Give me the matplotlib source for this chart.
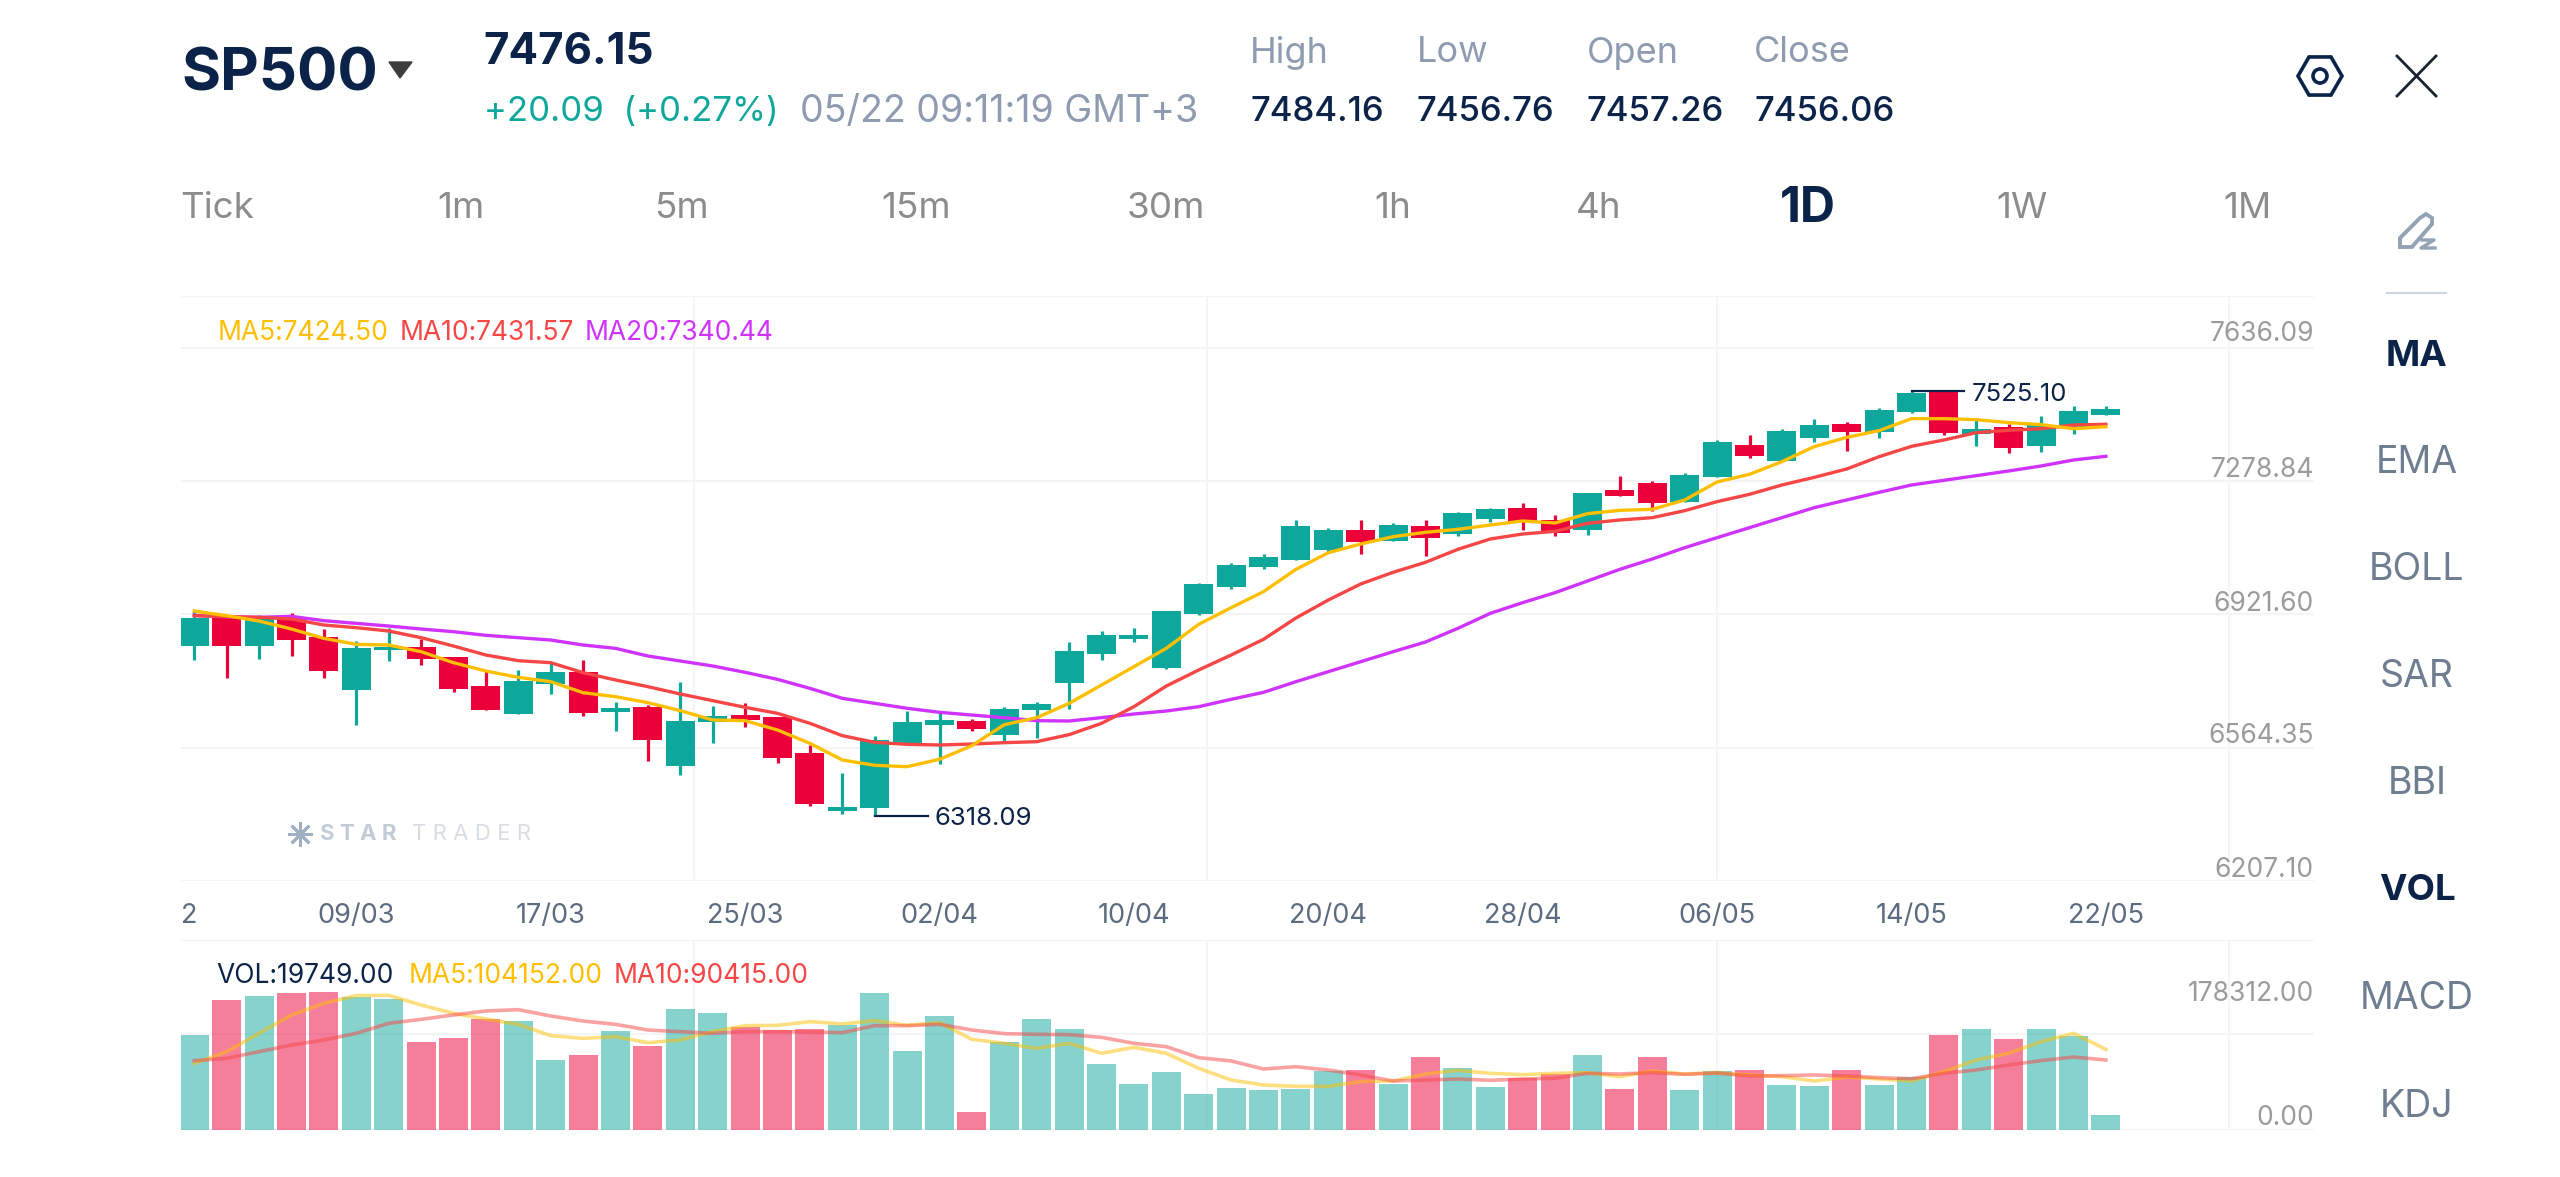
import matplotlib
matplotlib.use("Agg")
import matplotlib.pyplot as plt
from matplotlib.patches import Polygon, Circle, RegularPolygon

opens = [6801.7, 6882.3, 6801.7, 6879.4, 6825.4, 6676.5, 6789.4, 6798.8, 6769.4, 6686.0,
         6607.3, 6692.6, 6726.8, 6612.1, 6628.2, 6460.3, 6583.6, 6605.4, 6597.8, 6496.4,
         6330.4, 6339.9, 6523.9, 6576.0, 6586.4, 6547.5, 6617.7, 6695.5, 6778.9, 6821.6,
         6739.1, 6891.8, 6969.5, 7025.5, 7045.4, 7074.0, 7129.9, 7098.6, 7143.1, 7118.5,
         7161.2, 7193.4, 7159.3, 7131.8, 7245.5, 7264.5, 7210.5, 7281.6, 7373.6, 7326.2,
         7391.6, 7431.4, 7410.6, 7466.5, 7523.4, 7404.9, 7424.8, 7368.8, 7424.8, 7457.26]
highs = [6903.2, 6884.2, 6888.9, 6895.6, 6848.1, 6815.9, 6851.0, 6819.7, 6770.4, 6730.6,
         6732.5, 6756.2, 6760.9, 6642.4, 6632.9, 6699.3, 6631.0, 6637.7, 6599.7, 6519.1,
         6438.5, 6544.7, 6615.9, 6609.2, 6594.0, 6626.2, 6641.4, 6813.1, 6843.4, 6852.9,
         6901.3, 6979.0, 7035.9, 7062.5, 7159.2, 7135.6, 7159.3, 7149.8, 7158.3, 7181.1,
         7194.3, 7207.6, 7174.4, 7236.1, 7284.4, 7269.3, 7292.0, 7386.8, 7401.1, 7418.1,
         7446.6, 7437.1, 7476.9, 7525.10, 7523.4, 7450.4, 7432.4, 7455.1, 7483.6, 7484.16]
lows = [6760.9, 6710.6, 6764.7, 6772.3, 6708.7, 6575.0, 6759.0, 6746.7, 6668.9, 6617.7,
        6607.3, 6663.2, 6602.6, 6559.9, 6473.6, 6434.7, 6525.8, 6571.3, 6468.9, 6345.6,
        6323.8, 6318.09, 6523.9, 6465.1, 6559.9, 6531.4, 6540.0, 6621.5, 6759.9, 6813.1,
        6734.4, 6888.9, 6962.0, 7019.8, 7045.4, 7068.2, 7061.6, 7098.6, 7056.8, 7114.7,
        7153.6, 7129.9, 7114.7, 7117.5, 7226.6, 7183.9, 7210.5, 7281.6, 7334.7, 7326.2,
        7382.1, 7354.6, 7391.6, 7464.6, 7402.0, 7368.8, 7350.8, 7352.7, 7404.9, 7456.76]
closes = [6880.4, 6801.7, 6876.6, 6817.8, 6729.6, 6795.1, 6797.9, 6762.8, 6678.4, 6617.7,
          6702.1, 6725.8, 6609.2, 6624.4, 6532.4, 6588.4, 6601.6, 6591.2, 6483.1, 6351.3,
          6342.7, 6533.4, 6583.6, 6590.3, 6563.7, 6620.6, 6635.7, 6786.5, 6832.0, 6831.1,
          6900.3, 6977.1, 7032.1, 7054.0, 7142.2, 7130.8, 7096.7, 7145.0, 7107.1, 7180.1,
          7191.5, 7154.5, 7121.3, 7235.1, 7226.6, 7206.7, 7286.3, 7381.1, 7341.3, 7413.4,
          7429.5, 7408.7, 7472.2, 7521.5, 7407.7, 7418.1, 7365.1, 7429.5, 7468.4, 7476.15]

ma5 = [6900.3, 6887.0, 6871.8, 6849.1, 6822.5, 6805.5, 6803.6, 6784.6, 6753.3, 6729.6,
       6711.6, 6699.3, 6668.0, 6656.6, 6639.6, 6616.8, 6590.3, 6588.4, 6561.8, 6523.9,
       6476.5, 6461.3, 6457.5, 6478.4, 6517.2, 6576.9, 6596.9, 6637.6, 6689.8, 6742.0,
       6794.1, 6862.4, 6909.8, 6955.3, 7018.8, 7066.2, 7091.0, 7111.8, 7124.2, 7132.7,
       7145.0, 7156.4, 7150.7, 7177.3, 7186.8, 7189.6, 7216.2, 7267.4, 7289.2, 7325.2,
       7367.9, 7394.4, 7413.4, 7447.6, 7447.6, 7444.7, 7436.2, 7430.5, 7419.1, 7424.50]
ma10 = [6887.0, 6884.2, 6882.3, 6877.5, 6860.5, 6852.9, 6843.4, 6824.4, 6800.7, 6775.1,
        6759.0, 6753.3, 6724.9, 6704.1, 6685.1, 6664.2, 6645.3, 6626.3, 6609.2, 6580.8,
        6545.7, 6526.7, 6521.0, 6519.1, 6521.9, 6525.7, 6528.6, 6548.5, 6580.7, 6628.1,
        6686.9, 6732.5, 6775.1, 6819.7, 6880.4, 6931.6, 6977.2, 7010.4, 7038.8, 7075.8,
        7105.2, 7119.4, 7127.0, 7149.8, 7159.3, 7165.9, 7185.8, 7211.4, 7232.3, 7258.8,
        7280.6, 7304.4, 7339.4, 7368.8, 7386.9, 7407.7, 7414.4, 7419.1, 7429.5, 7431.57]
ma20 = [6888.0, 6884.2, 6882.3, 6885.1, 6872.8, 6865.2, 6857.6, 6849.1, 6841.5, 6831.1,
        6824.4, 6817.8, 6803.6, 6794.1, 6772.3, 6758.1, 6743.9, 6725.9, 6705.9, 6680.3,
        6651.9, 6637.7, 6623.5, 6612.1, 6604.4, 6596.9, 6588.3, 6587.4, 6596.9, 6607.3,
        6615.8, 6628.1, 6649.0, 6668.9, 6699.2, 6727.7, 6756.1, 6784.6, 6812.1, 6851.0,
        6893.7, 6924.1, 6952.5, 6985.7, 7018.9, 7048.3, 7080.5, 7109.0, 7137.5, 7165.9,
        7194.4, 7216.2, 7238.0, 7258.8, 7272.1, 7285.4, 7298.7, 7312.9, 7330.0, 7340.44]

volumes = [122300, 167500, 173100, 177400, 178312, 172300, 168800, 113300, 119300, 143900,
           141300, 90900, 96500, 127900, 108100, 155900, 150700, 133100, 128800, 130500,
           136100, 177400, 102500, 147300, 23300, 113700, 143400, 130900, 85700, 59900,
           75400, 46900, 53800, 51300, 53400, 76200, 77100, 59000, 94300, 79700,
           55600, 67600, 72400, 96900, 53400, 94300, 52100, 76700, 77500, 57700,
           56400, 77100, 58100, 68500, 123200, 130900, 117200, 130900, 121900, 19749]
vol_ma5 = [86100, 101200, 124900, 148600, 163700, 173600, 174000, 161500, 150700, 143400,
           136500, 121900, 118400, 120600, 112800, 116300, 127100, 134800, 135200, 140000,
           137000, 141300, 135200, 138700, 117200, 112000, 105500, 112000, 99100, 106800,
           99100, 79700, 64600, 58100, 56400, 56400, 62500, 63300, 72400, 77100,
           73200, 71500, 73200, 74100, 68900, 76200, 72400, 74100, 71100, 68900,
           63300, 68500, 65900, 63300, 75400, 90400, 99100, 114100, 124900, 104152]
vol_ma10 = [89600, 92600, 101200, 109800, 116300, 124900, 137800, 143000, 148600, 153800,
            155500, 147300, 140800, 136500, 129200, 127100, 124900, 127100, 127100, 126600,
            125800, 134800, 134800, 136500, 129200, 124500, 123600, 123200, 119700, 112000,
            107700, 93500, 89200, 78800, 81800, 77500, 71100, 63300, 64600, 65900,
            64200, 65900, 66800, 73200, 72400, 74100, 71900, 73600, 69800, 70200,
            71100, 69800, 67600, 66300, 73200, 77500, 84000, 89600, 94300, 90415]

date_ticks = [5, 11, 17, 23, 29, 35, 41, 47, 53, 59]
date_labels = ["09/03", "17/03", "25/03", "02/04", "10/04", "20/04", "28/04", "06/05", "14/05", "22/05"]
price_labels = ["7636.09", "7278.84", "6921.60", "6564.35", "6207.10"]
vol_labels = ["178312.00", "0.00"]
tabs = ["Tick", "1m", "5m", "15m", "30m", "1h", "4h", "1D", "1W", "1M"]
indicators = ["MA", "EMA", "BOLL", "SAR", "BBI", "VOL", "MACD", "KDJ"]
active = ["MA", "VOL", "1D"]

NAVY = "#0b2349"
GREEN = "#0ea79b"
RED = "#ec0039"
YELLOW = "#ffbf00"
ORANGE = "#f74646"
PURPLE = "#d033ff"
GRID = "#f3f4f6"
W, H = 2560, 1177

plt.rcParams["font.family"] = ["Inter", "DejaVu Sans"]
fig = plt.figure(figsize=(W / 100, H / 100), dpi=100, facecolor="white")


def pixel_axes(left, top, right, bottom):
    return fig.add_axes([left / W, 1 - bottom / H, (right - left) / W, (bottom - top) / H])


# candle i sits at 194.3 + 32.4 * i on the canvas
xlim = ((181 - 194.3) / 32.4, (2314 - 194.3) / 32.4)
x = list(range(len(closes)))
colors = [GREEN if c >= o else RED for o, c in zip(opens, closes)]

ax = pixel_axes(181, 296, 2314, 881)
ax.set_xlim(xlim)
ax.set_ylim(6132.2, 7796.5)
ax.axis("off")
for frac in [1, 533 / 585, 400 / 585, 267 / 585, 133 / 585, 0]:
    ax.axhline(frac * (7796.5 - 6132.2) + 6132.2, color=GRID, lw=1.6, zorder=0)
for gx in [15.42, 31.25, 47.0, 62.8]:
    ax.axvline(gx, color=GRID, lw=1.2, zorder=0)
ax.vlines(x, lows, highs, colors=colors, lw=2.3, zorder=2)
ax.bar(x, [abs(c - o) for o, c in zip(opens, closes)], 0.9,
       bottom=[min(o, c) for o, c in zip(opens, closes)], color=colors, zorder=3)
ax.plot(x, ma20, color=PURPLE, lw=2.4, zorder=4)
ax.plot(x, ma10, color=ORANGE, lw=2.4, zorder=5)
ax.plot(x, ma5, color=YELLOW, lw=2.4, zorder=6)

# highest and lowest prices on screen
for i, price, s in [(53, 7525.10, "7525.10"), (21, 6318.09, "6318.09")]:
    ax.plot([i, i + 1.63], [price, price], color=NAVY, lw=1.6, zorder=7)
    ax.annotate(s, xy=(i + 1.85, price), xytext=(0, -2), textcoords="offset points",
                color=NAVY, fontsize=18.5, va="center", zorder=8)

vax = pixel_axes(181, 940, 2314, 1130)
vax.set_xlim(xlim)
vax.set_ylim(0, 190 * 1292)
vax.axis("off")
for frac in [1, 96 / 190, 0]:
    vax.axhline(frac * 190 * 1292, color=GRID, lw=1.6, zorder=0)
for gx in [15.42, 31.25, 47.0, 62.8]:
    vax.axvline(gx, color=GRID, lw=1.2, zorder=0)
vax.bar(x, volumes, 0.9, color=colors, alpha=0.5, zorder=2)
vax.plot(x, vol_ma5, color=YELLOW, lw=2.6, alpha=0.5, zorder=3)
vax.plot(x, vol_ma10, color=ORANGE, lw=2.6, alpha=0.5, zorder=4)

# header, tabs, side menu and axis labels live on a canvas sized overlay
ui = fig.add_axes([0, 0, 1, 1], facecolor="none")
ui.set_xlim(0, W)
ui.set_ylim(H, 0)
ui.axis("off")


def label(px, py, s, color=NAVY, size=19, ha="left", weight="normal"):
    ui.text(px, py + 3, s, color=color, fontsize=size, ha=ha, va="center", fontweight=weight)


label(181, 72, "SP500", size=43, weight="bold")
ui.add_patch(Polygon([[389, 62], [412, 62], [400, 78]], color="#3c3c3c"))
label(483, 50, "7476.15", size=31.5, weight="bold")
label(484, 109, "+20.09  (+0.27%)", color=GREEN, size=25)
label(800, 109, "05/22 09:11:19 GMT+3", color="#8f9bb0", size=27)
for px, head, val in [(1250, "High", "7484.16"), (1417, "Low", "7456.76"),
                      (1587, "Open", "7457.26"), (1754, "Close", "7456.06")]:
    label(px, 50, head, color="#8f9bb0", size=26)
    label(px, 109, val, size=25, weight="medium")

for px, tab in zip([217, 461, 681, 916, 1166, 1393, 1599, 1808, 2022, 2247], tabs):
    if tab in active:
        label(px, 206, tab, size=35, ha="center", weight="bold")
    else:
        label(px, 206, tab, color="#8c8c8c", size=26.5, ha="center")

for py, name in zip([353, 460, 567, 674, 781, 888, 996, 1104], indicators):
    if name in active:
        label(2417, py, name, size=26.5, ha="center", weight="bold")
    else:
        label(2417, py, name, color="#6e7d90", size=27, ha="center")

ui.plot([2387, 2446], [293, 293], color="#cfd7e3", lw=1.6)
ui.add_patch(RegularPolygon((2320, 76), 6, radius=22, orientation=0.5236,
                            fill=False, ec=NAVY, lw=2.6))
ui.add_patch(Circle((2320, 76), 7, fill=False, ec=NAVY, lw=2.6))
ui.plot([2397, 2436], [56, 96], color="#1b2130", lw=2)
ui.plot([2397, 2436], [96, 56], color="#1b2130", lw=2)

# pencil with a small z beside its tip
ui.add_patch(Polygon([[2400, 247], [2400, 238], [2420, 218], [2426, 214], [2432, 218],
                      [2432, 224], [2412, 247]], fill=False, ec="#93a2b5", lw=2.8))
ui.plot([2422, 2434, 2421, 2435], [240, 240, 248, 248], color="#93a2b5", lw=2.4)

label(218, 330, "MA5:7424.50", color=YELLOW)
label(400, 330, "MA10:7431.57", color=ORANGE)
label(585, 330, "MA20:7340.44", color=PURPLE)
label(216, 973, "VOL:19749.00")
label(409, 973, "MA5:104152.00", color=YELLOW)
label(614, 973, "MA10:90415.00", color=ORANGE)

for py, s in zip([331, 467, 601, 733, 867], price_labels):
    label(2314, py, s, color="#9b9b9b", ha="right")
for py, s in zip([991, 1115], vol_labels):
    label(2314, py, s, color="#9b9b9b", ha="right")

label(189, 913, "2", color="#5d6b80", size=19.5, ha="center")
for i, s in zip(date_ticks, date_labels):
    label(194.3 + 32.4 * i, 913, s, color="#5d6b80", size=19.5, ha="center")

ui.plot([300], [834], marker=(8, 2, 0), ms=18, color="#9fb0c4", mew=2)
label(320, 831, "S T A R", color="#c3cbd6", size=16, weight="bold")
label(412, 831, "T R A D E R", color="#d8dde5", size=16)

fig.savefig("out.png", dpi=100)
